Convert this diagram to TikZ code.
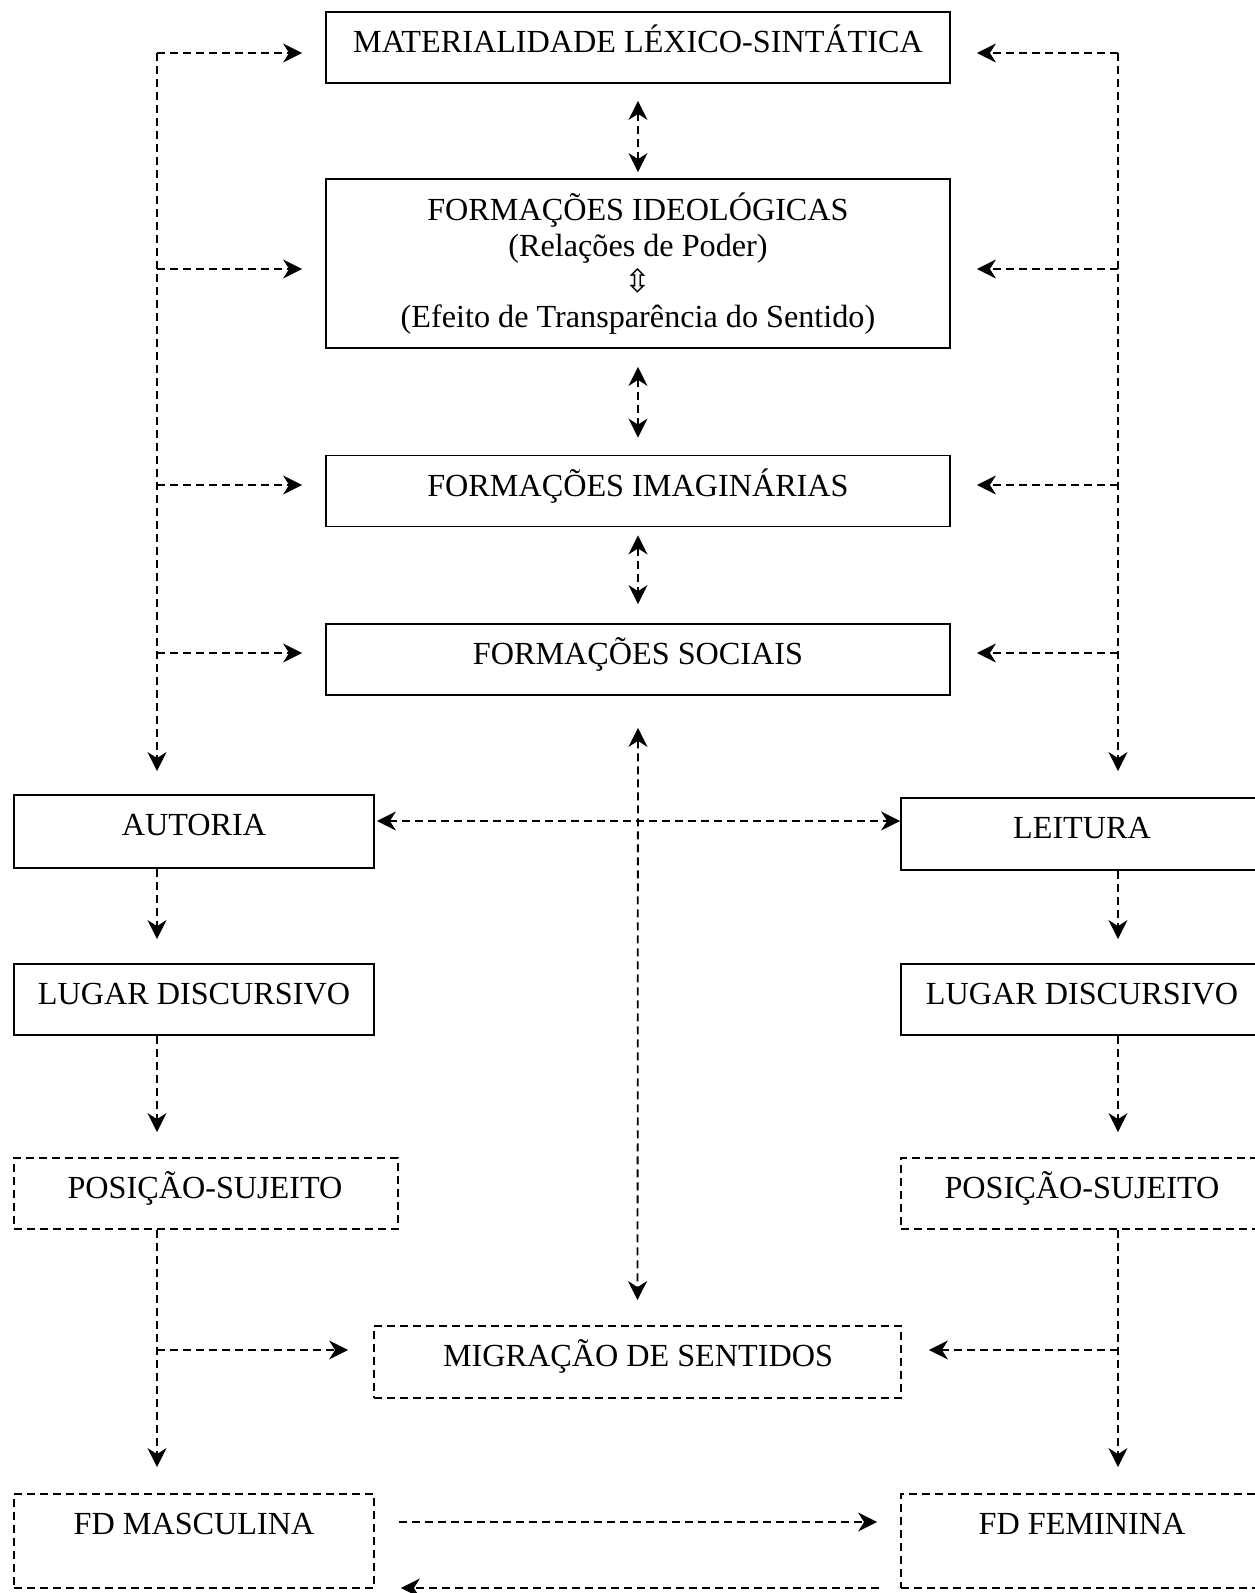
\documentclass[tikz,border=0pt]{standalone}
\usepackage{fontspec}
\setmainfont{Liberation Serif}
\newfontfamily\symfont{DejaVu Sans}
\usetikzlibrary{arrows.meta}
\tikzset{
  box/.style={draw, line width=1.8pt, rectangle, inner sep=0pt, minimum height=71pt},
  dbox/.style={box, dash pattern=on 8pt off 5pt},
  txt/.style={anchor=base, inner sep=0pt, font=\fontsize{32.2}{36}\selectfont},
  dar/.style={line width=1.8pt, dash pattern=on 8pt off 5pt, -{Stealth[length=19pt, width=19pt, inset=6pt]}},
  dbar/.style={line width=1.8pt, dash pattern=on 8pt off 5pt, {Stealth[length=19pt, width=19pt, inset=6pt]}-{Stealth[length=19pt, width=19pt, inset=6pt]}}
}
\begin{document}
\begin{tikzpicture}[x=1pt, y=-1pt]
\useasboundingbox (0,0) rectangle (1255,1593);
\clip (0,0) rectangle (1255,1593);
% boxes
\node[box, minimum width=624pt, minimum height=71pt] (mat) at (638,47.5) {};
\node[box, minimum width=624pt, minimum height=169pt] (ideo) at (638,263.5) {};
\node[box, minimum width=624pt] (imag) at (638,491) {};
\node[box, minimum width=624pt] (soc) at (638,659.5) {};
\node[box, minimum width=360pt, minimum height=73pt] (aut) at (194,831.5) {};
\node[box, minimum width=364pt, minimum height=72pt] (leit) at (1083,834) {};
\node[box, minimum width=360pt] (lugL) at (194,999.5) {};
\node[box, minimum width=364pt] (lugR) at (1083,999.5) {};
\node[dbox, minimum width=384pt] (posL) at (206,1193.5) {};
\node[dbox, minimum width=364pt] (posR) at (1083,1193.5) {};
\node[dbox, minimum width=527pt, minimum height=72pt] (mig) at (637.5,1362) {};
\node[dbox, minimum width=360pt, minimum height=94pt] (fdM) at (194,1541) {};
\node[dbox, minimum width=364pt, minimum height=94pt] (fdF) at (1083,1541) {};
% texts
\node[txt] (tmat) at (638,52) {MATERIALIDADE LÉXICO-SINTÁTICA};
\node[txt] (tideo1) at (638,220) {FORMAÇÕES IDEOLÓGICAS};
\node[txt] (tideo2) at (638,256) {(Relações de Poder)};
\node[anchor=center, inner sep=0pt, font=\symfont\fontsize{32}{34}\selectfont] (tideo3) at (638,281) {⇳};
\node[txt] (tideo4) at (638,327) {(Efeito de Transparência do Sentido)};
\node[txt] (timag) at (638,496) {FORMAÇÕES IMAGINÁRIAS};
\node[txt] (tsoc) at (638,664) {FORMAÇÕES SOCIAIS};
\node[txt] (taut) at (194,835) {AUTORIA};
\node[txt] (tleit) at (1082,838) {LEITURA};
\node[txt] (tlugL) at (194,1004) {LUGAR DISCURSIVO};
\node[txt] (tlugR) at (1082,1004) {LUGAR DISCURSIVO};
\node[txt] (tposL) at (205,1198) {POSIÇÃO-SUJEITO};
\node[txt] (tposR) at (1082,1198) {POSIÇÃO-SUJEITO};
\node[txt] (tmig) at (638,1366) {MIGRAÇÃO DE SENTIDOS};
\node[txt] (tfdM) at (194,1534) {FD MASCULINA};
\node[txt] (tfdF) at (1082,1534) {FD FEMININA};
% spine coordinates
\coordinate (L1) at (157,53);
\coordinate (L2) at (157,269);
\coordinate (L3) at (157,485);
\coordinate (L4) at (157,653);
\coordinate (R1) at (1118,53);
\coordinate (R2) at (1118,269);
\coordinate (R3) at (1118,485);
\coordinate (R4) at (1118,653);
\coordinate (LM) at (157,1350);
\coordinate (RM) at (1118,1350);
\coordinate (H) at (638,821);
\coordinate (B1) at (638,1522);
\coordinate (B2) at (638,1588);
% left spine
\draw[dar, shorten >=23pt] (L1) -- (aut.north -| L1);
\draw[dar, shorten >=23pt] (L1) -- (L1 -| mat.west);
\draw[dar, shorten >=23pt] (L2) -- (L2 -| ideo.west);
\draw[dar, shorten >=23pt] (L3) -- (L3 -| imag.west);
\draw[dar, shorten >=23pt] (L4) -- (L4 -| soc.west);
% right spine
\draw[dar, shorten >=26pt] (R1) -- (leit.north -| R1);
\draw[dar, shorten >=26pt] (R1) -- (R1 -| mat.east);
\draw[dar, shorten >=26pt] (R2) -- (R2 -| ideo.east);
\draw[dar, shorten >=26pt] (R3) -- (R3 -| imag.east);
\draw[dar, shorten >=26pt] (R4) -- (R4 -| soc.east);
% central column
\draw[dbar, shorten <=17pt, shorten >=6pt] (mat.south) -- (ideo.north);
\draw[dbar, shorten <=18pt, shorten >=17pt] (ideo.south) -- (imag.north);
\draw[dbar, shorten <=8pt, shorten >=19pt] (imag.south) -- (soc.north);
\draw[dbar, shorten <=32pt, shorten >=25pt] (soc.south) -- (mig.north);
\draw[dbar, shorten <=2pt] (aut.east |- H) -- (leit.west |- H);
% left column below
\draw[dar, shorten >=24pt] (aut.south -| L1) -- (lugL.north -| L1);
\draw[dar, shorten >=25pt] (lugL.south -| L1) -- (posL.north -| L1);
\draw[dar, shorten >=26pt] (posL.south -| L1) -- (fdM.north -| L1);
\draw[dar, shorten >=25pt] (LM) -- (LM -| mig.west);
% right column below
\draw[dar, shorten >=24pt] (leit.south -| R1) -- (lugR.north -| R1);
\draw[dar, shorten >=25pt] (lugR.south -| R1) -- (posR.north -| R1);
\draw[dar, shorten >=26pt] (posR.south -| R1) -- (fdF.north -| R1);
\draw[dar, shorten >=27pt] (RM) -- (RM -| mig.east);
% bottom
\draw[dar, shorten <=24pt, shorten >=23pt] (fdM.east |- B1) -- (fdF.west |- B1);
\draw[dar, shorten <=21pt, shorten >=26pt] (fdF.west |- B2) -- (fdM.east |- B2);
\end{tikzpicture}
\end{document}
